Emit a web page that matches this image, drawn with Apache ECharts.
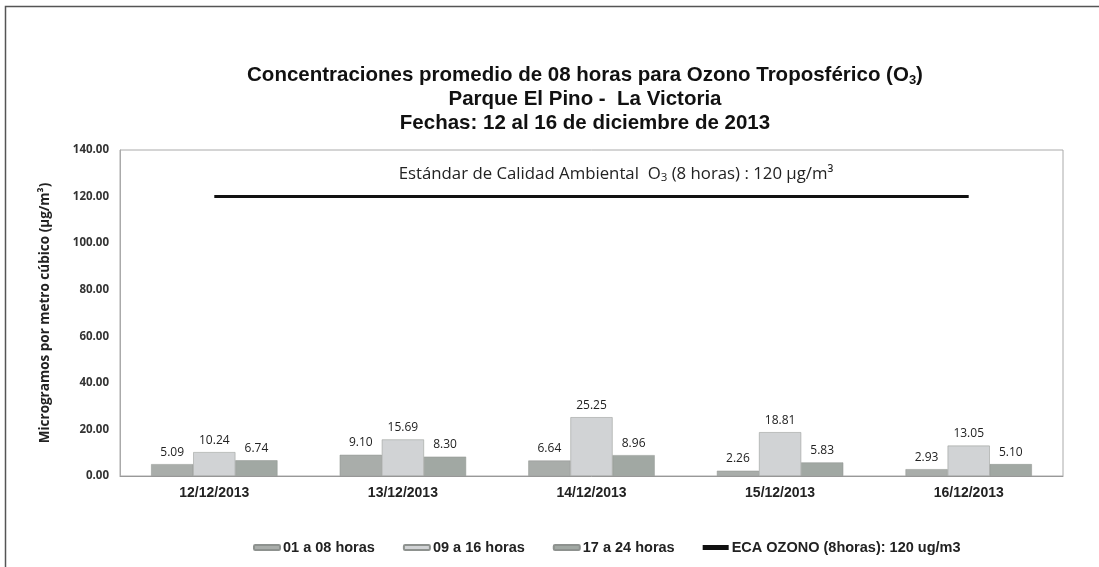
<!DOCTYPE html>
<html>
<head>
<meta charset="utf-8">
<script src="https://cdn.jsdelivr.net/npm/echarts@6/dist/echarts.min.js"></script>
<style>
  html, body { margin: 0; padding: 0; background: #fff; }
  #chart { width: 1099px; height: 567px; }
</style>
</head>
<body>
<div id="chart"></div>
<script>
const fechas = ['12/12/2013', '13/12/2013', '14/12/2013', '15/12/2013', '16/12/2013'];
const horas01a08 = [5.09, 9.10, 6.64, 2.26, 2.93];
const horas09a16 = [10.24, 15.69, 25.25, 18.81, 13.05];
const horas17a24 = [6.74, 8.30, 8.96, 5.83, 5.10];
const ecaOzono = [120, 120, 120, 120, 120];

const chart = echarts.init(document.getElementById('chart'));

const labelFont = { show: true, position: 'top', distance: 6, color: '#222', fontSize: 12, fontFamily: 'Open Sans', formatter: p => p.value.toFixed(2) };

const barSeries = (name, data, color) => ({
  name,
  type: 'bar',
  data,
  barGap: '0%',
  barCategoryGap: '33%',
  itemStyle: { color, borderColor: '#8e928f', borderWidth: 0.5 },
  label: labelFont
});

chart.setOption({
  animation: false,
  title: [
    {
      text: 'Concentraciones promedio de 08 horas para Ozono Troposférico (O{sub|3})\nParque El Pino -  La Victoria\nFechas: 12 al 16 de diciembre de 2013',
      left: 580,
      top: 58,
      textAlign: 'center',
      textStyle: {
        fontFamily: 'Liberation Sans',
        fontWeight: 'bold',
        fontSize: 20.5,
        color: '#111',
        lineHeight: 24,
        rich: {
          sub: { fontFamily: 'Liberation Sans', fontWeight: 'bold', fontSize: 13, color: '#111', verticalAlign: 'bottom', padding: [9, 0, 0, 0] }
        }
      }
    },
    {
      text: 'Estándar de Calidad Ambiental  O{sub|3} (8 horas) : 120 µg/m³',
      left: 611,
      top: 160,
      textAlign: 'center',
      textStyle: {
        fontFamily: 'Open Sans',
        fontWeight: 'normal',
        fontSize: 16.8,
        color: '#222',
        rich: {
          sub: { fontFamily: 'Open Sans', fontSize: 11.5, color: '#222', verticalAlign: 'bottom', padding: [7, 0, 0, 0] }
        }
      }
    }
  ],
  graphic: [
    { type: 'rect', shape: { x: 5.5, y: 6.5, width: 1100, height: 570 }, style: { fill: 'none', stroke: '#555', lineWidth: 1.5 }, silent: true }
  ],
  legend: {
    bottom: 7,
    left: 248,
    itemGap: 28,
    itemWidth: 26,
    itemHeight: 5,
    textStyle: { fontFamily: 'Liberation Sans', fontWeight: 'bold', fontSize: 14.5, color: '#222', padding: [0, 0, 0, -2] },
    data: [
      { name: '01 a 08 horas' },
      { name: '09 a 16 horas' },
      { name: '17 a 24 horas' },
      { name: 'ECA OZONO (8horas): 120 ug/m3', icon: 'rect', itemStyle: { color: '#111' } }
    ]
  },
  grid: {
    left: 120,
    right: 36,
    top: 150,
    bottom: 91,
    show: true,
    borderColor: '#aaa',
    borderWidth: 1
  },
  xAxis: {
    type: 'category',
    data: fechas,
    axisTick: { show: false },
    axisLine: { lineStyle: { color: '#999' } },
    axisLabel: { fontFamily: 'Liberation Sans', fontWeight: 'bold', fontSize: 14, color: '#222', margin: 10 }
  },
  yAxis: {
    type: 'value',
    min: 0,
    max: 140,
    interval: 20,
    name: 'Microgramos por metro cúbico (µg/m³)',
    nameLocation: 'middle',
    nameRotate: 90,
    nameGap: 68,
    nameTextStyle: { fontFamily: 'Open Sans', fontWeight: 'bold', fontSize: 13.5, color: '#222' },
    axisLine: { show: true, lineStyle: { color: '#aaa' } },
    axisTick: { show: false },
    splitLine: { show: false },
    axisLabel: {
      fontFamily: 'Open Sans', fontWeight: 'bold', fontSize: 11.5, color: '#333', margin: 11,
      formatter: v => v.toFixed(2)
    }
  },
  series: [
    barSeries('01 a 08 horas', horas01a08, '#a9adaa'),
    barSeries('09 a 16 horas', horas09a16, '#d1d3d5'),
    barSeries('17 a 24 horas', horas17a24, '#a1a8a3'),
    {
      name: 'ECA OZONO (8horas): 120 ug/m3',
      type: 'line',
      data: ecaOzono,
      symbol: 'none',
      lineStyle: { color: '#111', width: 3 },
      itemStyle: { color: '#111' }
    }
  ]
});
</script>
</body>
</html>
